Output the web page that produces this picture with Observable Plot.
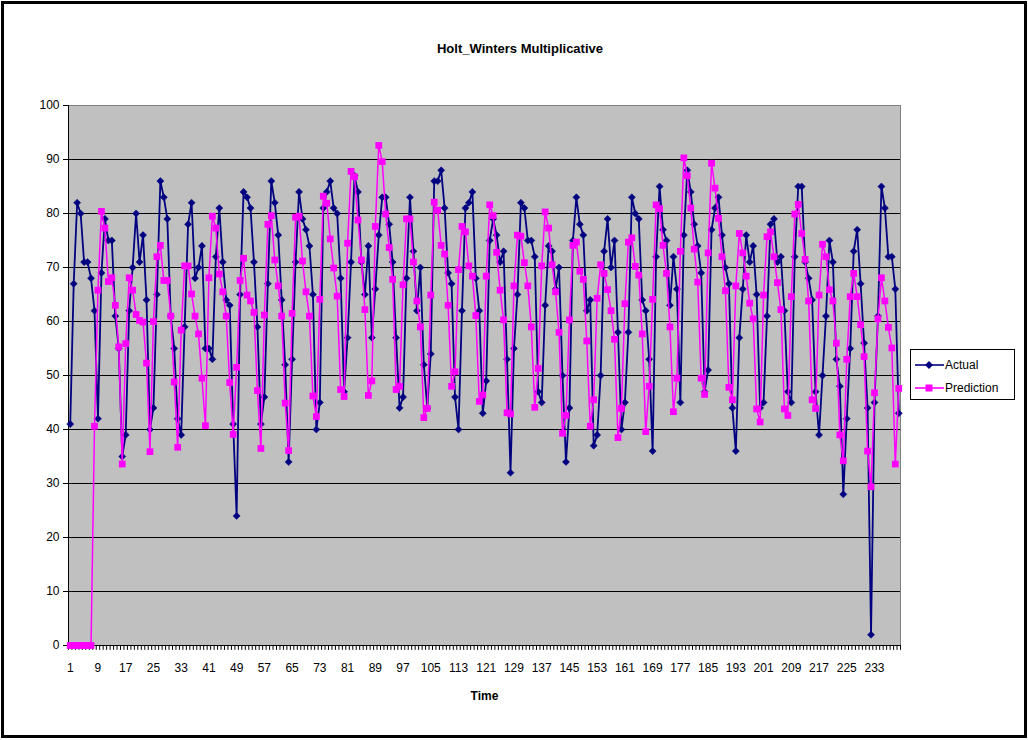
<!DOCTYPE html>
<html>
<head>
<meta charset="utf-8">
<script src="https://cdn.jsdelivr.net/npm/d3@7"></script>
<script src="https://cdn.jsdelivr.net/npm/@observablehq/plot@0.6"></script>
<style>
  body { margin: 0; background: #fff; font-family: "Liberation Sans", Arial, sans-serif; }
  #wrap { position: relative; width: 1028px; height: 740px; overflow: hidden; background: #fff; }
  #chart { position: absolute; left: 0; top: 0; }
  #frame { position: absolute; left: 1px; top: 1px; width: 1020px; height: 731px; border: 3px solid #000; pointer-events: none; }
  #title { position: absolute; left: 0; top: 41px; width: 1040px; text-align: center; font-weight: bold; font-size: 13px; color: #000; }
  #legend { position: absolute; left: 910px; top: 349px; width: 103px; height: 49px; border: 1px solid #000; background: #fff; font-size: 12px; }
  .lg { position: absolute; left: 4px; height: 16px; display: flex; align-items: center; }
  .lg span { margin-left: 1px; }
</style>
</head>
<body>
<div id="wrap">
  <div id="chart"></div>
  <div id="title"></div>
  <div id="legend"></div>
  <div id="frame"></div>
</div>
<script>
const chartTitle = "Holt_Winters Multiplicative";
const xLabel = "Time";
const seriesNames = ["Actual", "Prediction"];
const seriesColors = ["#000080", "#ff00ff"];
const yTicks = [0, 10, 20, 30, 40, 50, 60, 70, 80, 90, 100];
const xTickLabels = [1, 9, 17, 25, 33, 41, 49, 57, 65, 73, 81, 89, 97, 105, 113, 121, 129, 137, 145, 153, 161, 169, 177, 185, 193, 201, 209, 217, 225, 233];

const actual = [
  41, 67, 82, 80, 71, 71, 68, 62, 42, 69, 79, 75, 75, 61, 55, 35, 39, 62, 70, 80,
  71, 76, 64, 40, 44, 65, 86, 83, 79, 61, 55, 42, 39, 59, 78, 82, 68, 70, 74, 55,
  55, 53, 72, 81, 71, 64, 63, 41, 24, 65, 84, 83, 81, 71, 59, 41, 46, 67, 86, 82,
  76, 64, 52, 34, 53, 71, 84, 79, 77, 74, 65, 40, 45, 81, 84, 86, 81, 80, 68, 47,
  57, 71, 87, 84, 71, 65, 74, 57, 66, 76, 83, 83, 78, 71, 57, 44, 46, 68, 83, 73,
  62, 70, 52, 44, 54, 86, 86, 88, 81, 69, 67, 46, 40, 62, 81, 82, 84, 68, 62, 43,
  49, 75, 79, 76, 71, 73, 53, 32, 55, 65, 82, 81, 75, 75, 72, 47, 45, 63, 74, 73,
  66, 70, 50, 34, 44, 75, 83, 78, 76, 62, 64, 37, 39, 50, 73, 79, 70, 75, 58, 40,
  45, 58, 83, 80, 79, 64, 62, 53, 36, 72, 85, 77, 75, 63, 72, 66, 45, 76, 88, 84,
  78, 74, 69, 47, 51, 77, 81, 83, 76, 70, 67, 44, 36, 57, 66, 76, 71, 74, 65, 44,
  45, 61, 78, 79, 71, 72, 62, 47, 45, 72, 85, 85, 71, 68, 64, 47, 39, 50, 61, 75,
  71, 53, 48, 28, 42, 55, 73, 77, 67, 56, 44, 2, 45, 61, 85, 81, 72, 72, 66, 43
];

const prediction = [
  0, 0, 0, 0, 0, 0, 0, 40.6, 65.8, 80.4, 77.3, 67.4, 68.1, 63, 55.3, 33.6, 55.9, 68.1, 65.8, 61.3,
  60.2, 59.9, 52.3, 35.9, 60, 72, 74.1, 67.6, 67.6, 61, 48.8, 36.7, 58.4, 70.3, 70.3, 65.1, 61, 57.7, 49.5, 40.7,
  68.1, 79.5, 77.3, 68.8, 65.5, 61, 48.7, 39.1, 51.5, 67.6, 71.7, 64.9, 63.8, 61.7, 47.2, 36.5, 61.2, 78, 79.6, 71.4,
  66.6, 61, 44.9, 36.1, 61.5, 79.3, 79.5, 71.2, 65.5, 61, 46.2, 42.4, 64.1, 83.2, 81.9, 75.3, 69.9, 64.7, 47.4, 46.1,
  74.5, 87.8, 86.8, 78.8, 71.4, 62.2, 46.3, 49, 77.6, 92.6, 89.6, 79.9, 73.7, 67.8, 47.4, 48, 66.8, 79, 79, 71,
  63.8, 59, 42.2, 43.9, 64.9, 82.1, 80.6, 74.1, 72.5, 63, 48, 50.7, 69.6, 77.6, 76.6, 70.3, 68.4, 61.1, 45.2, 46.4,
  68.4, 81.6, 79.6, 72.8, 65.8, 60.3, 43.1, 42.9, 66.6, 76, 75.8, 70.9, 66.6, 59, 44.1, 51.3, 70.3, 80.3, 77.3, 70.5,
  65.5, 58, 39.3, 42.6, 60.3, 74.1, 74.7, 69.3, 67.8, 56.4, 40.6, 45.5, 64.3, 70.5, 68.9, 65.9, 62, 56.7, 38.5, 43.9,
  63.3, 74.7, 75.5, 70.2, 68.6, 57.7, 39.6, 48, 64.1, 81.6, 80.9, 74.1, 68.9, 59, 43.3, 49.5, 73, 90.3, 87, 81,
  73.4, 67.3, 49.5, 46.5, 72.7, 89.3, 84.7, 79.1, 72, 65.7, 47.8, 45.5, 66.6, 76.3, 72.7, 68.4, 63.4, 60.5, 43.8, 41.4,
  64.9, 75.7, 76.6, 72, 67.2, 62.2, 43.8, 42.6, 64.6, 79.9, 81.7, 76.3, 71.5, 63.8, 45.5, 43.9, 64.9, 74.3, 72, 65.9,
  63.8, 56, 39, 34.2, 53, 64.6, 68.9, 64.6, 59.4, 53.5, 36, 29.4, 46.8, 60.5, 68.1, 63.8, 58.9, 55.1, 33.6, 47.6
];

const N = prediction.length;
const dataA = actual.map((v, i) => ({t: i + 1, v}));
const dataP = prediction.map((v, i) => ({t: i + 1, v}));
const boundaries = d3.range(0, N + 1).map(i => i + 0.5);

const plot = Plot.plot({
  width: 1028,
  height: 740,
  marginLeft: 68,
  marginRight: 128,
  marginTop: 105,
  marginBottom: 95,
  style: {fontFamily: "'Liberation Sans', Arial, sans-serif", fontSize: "12px", background: "transparent", color: "#000", overflow: "visible"},
  x: {domain: [0.5, N + 0.5]},
  y: {domain: [0, 100]},
  marks: [
    Plot.frame({fill: "#c0c0c0", stroke: "none"}),
    Plot.gridY(yTicks, {stroke: "#000", strokeOpacity: 1, strokeWidth: 1}),
    Plot.frame({stroke: "#808080", strokeWidth: 1}),
    Plot.ruleX([0.5], {stroke: "#000", strokeWidth: 1}),
    Plot.ruleY([0], {stroke: "#000", strokeWidth: 1}),
    Plot.ruleX(boundaries, {x: d => d, y1: 0, y2: -0.9, stroke: "#000", strokeWidth: 1}),
    Plot.axisY(yTicks, {tickSize: 5, tickPadding: 4, label: null, fontSize: 12, stroke: "#000"}),
    Plot.axisX(xTickLabels, {tickSize: 0, tickPadding: 18, label: null, fontSize: 12}),
    Plot.text([xLabel], {frameAnchor: "bottom", dy: 54, fontWeight: "bold", fontSize: 12}),
    Plot.line(dataA, {x: "t", y: "v", stroke: seriesColors[0], strokeWidth: 1.8}),
    Plot.dot(dataA, {x: "t", y: "v", symbol: "diamond2", r: 3.2, fill: seriesColors[0], stroke: seriesColors[0], strokeWidth: 0.5}),
    Plot.line(dataP, {x: "t", y: "v", stroke: seriesColors[1], strokeWidth: 1.5}),
    Plot.dot(dataP, {x: "t", y: "v", symbol: "square", r: 3.8, fill: seriesColors[1], stroke: "none"})
  ]
});
document.getElementById("chart").appendChild(plot);
document.getElementById("title").textContent = chartTitle;

const legend = document.getElementById("legend");
const symbols = [
  '<path d="M14,4 L18,8 L14,12 L10,8 Z" fill="' + seriesColors[0] + '"/>',
  '<rect x="10.5" y="4.5" width="7" height="7" fill="' + seriesColors[1] + '"/>'
];
seriesNames.forEach((name, i) => {
  const row = document.createElement("div");
  row.className = "lg";
  row.style.top = (7 + i * 23) + "px";
  row.innerHTML = '<svg width="29" height="16"><line x1="0" y1="8" x2="29" y2="8" stroke="' + seriesColors[i] + '" stroke-width="1.6"/>' + symbols[i] + '</svg><span>' + name + '</span>';
  legend.appendChild(row);
});
</script>
</body>
</html>
